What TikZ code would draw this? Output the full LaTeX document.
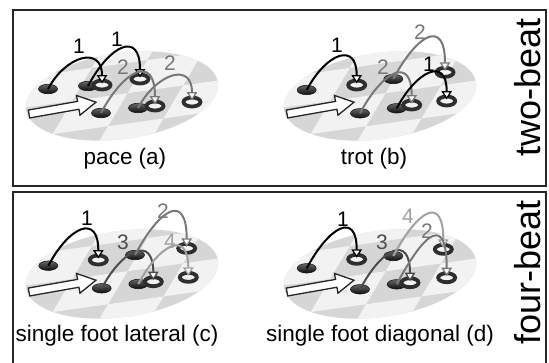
\documentclass[tikz,border=0pt]{standalone}
\usepackage{fontspec}
\setmainfont{Liberation Sans}
\usetikzlibrary{shapes.geometric,arrows.meta}
\definecolor{floorgray}{gray}{0.84}
\definecolor{checkw}{gray}{0.95}
\definecolor{arcgray}{gray}{0.47}
\definecolor{arcdark}{gray}{0.30}
\definecolor{arclight}{gray}{0.63}
\definecolor{ringcol}{gray}{0.18}
\definecolor{framecol}{gray}{0.15}

\newcommand\gaitfloor{%
  \begin{scope}[shift={(122,-96)},rotate=8]
    \fill[floorgray] (0,0) ellipse[x radius=97,y radius=43];
    \begin{scope}
      \clip (0,0) ellipse[x radius=97,y radius=43];
      \foreach \i in {-3,...,2}{\foreach \j in {-2,...,1}{%
        \pgfmathtruncatemacro\chk{mod(\i+\j+10,2)}%
        \ifnum\chk=0
          \fill[checkw] ({\i*56+0.8*\j*30+6},{\j*30+2}) -- ++(56,0) -- ++(24,30) -- ++(-56,0) -- cycle;
        \fi}}
    \end{scope}
  \end{scope}%
  \begin{scope}[shift={(29,-114)},rotate=10]
    \draw[bigarrow] (0,-4) -- (50,-4) -- (50,-10) -- (68,0) -- (50,10) -- (50,4) -- (0,4) -- cycle;
  \end{scope}}

\newcommand\gaitarc[4]{\draw[gaitline=#1] (#2.center) to[out=62,in=90,out distance=#4,in distance=#4] ([yshift=1.5pt]#3.center);}

\begin{document}
\begin{tikzpicture}[x=1pt,y=1pt,
  bigarrow/.style={draw=framecol,line width=1.3pt,fill=white,line join=miter},
  hoof/.style={ellipse,minimum width=19pt,minimum height=9.5pt,inner sep=0,draw=black!90,line width=0.6pt,top color=black!60,bottom color=black!95},
  ring/.style={ellipse,minimum width=17pt,minimum height=9pt,inner sep=0,draw=ringcol,line width=3.8pt,fill=white!90!gray},
  gaitline/.style={draw=#1,line width=2pt,-{Triangle[length=8.5pt,width=10.5pt,line width=1.3pt,fill=white]}},
  lbl/.style={font=\fontsize{21}{25}\selectfont,inner sep=0},
  caption/.style={font=\fontsize{22.5}{27}\selectfont,anchor=base,inner sep=0},
  side/.style={font=\fontsize{36}{43}\selectfont,rotate=90,inner sep=0},
  boxline/.style={draw=framecol,line width=1.3pt}]
\useasboundingbox (0,0) rectangle (549,-362);
\draw[boxline] (13,-10) rectangle (546,-186);
\draw[boxline] (13,-368) -- (13,-192) -- (546,-192) -- (546,-368);

% ---- pace (a)
\begin{scope}
  \gaitfloor
  \node[hoof] (aA1) at (48,-89) {};
  \node[hoof] (aA2) at (88,-86) {};
  \node[hoof] (aA3) at (101,-113) {};
  \node[hoof] (aA4) at (138,-108) {};
  \node[ring] (aR1) at (102,-85) {};
  \node[ring] (aR2) at (140,-79) {};
  \node[ring] (aR3) at (155,-106) {};
  \node[ring] (aR4) at (192,-102) {};
  \gaitarc{black}{aA1}{aR1}{38pt}
  \gaitarc{black}{aA2}{aR2}{47pt}
  \gaitarc{arcgray}{aA3}{aR3}{50pt}
  \gaitarc{arcgray}{aA4}{aR4}{39pt}
  \node[lbl] (al1) at (79,-46) {1};
  \node[lbl] (al2) at (117,-39) {1};
  \node[lbl,text=arcgray] (al3) at (123,-67) {2};
  \node[lbl,text=arcgray] (al4) at (170,-63) {2};
\end{scope}

% ---- trot (b)
\begin{scope}[shift={(258,0)}]
  \gaitfloor
  \node[hoof] (bA1) at (48.7,-90) {};
  \node[hoof] (bA3) at (102,-113.3) {};
  \node[hoof] (bA2) at (135.3,-79) {};
  \node[hoof] (bA4) at (138.7,-108.3) {};
  \node[ring] (bR1) at (98.7,-85) {};
  \node[ring] (bR3) at (153.7,-105) {};
  \node[ring] (bR2) at (187,-72.3) {};
  \node[ring] (bR4) at (188.7,-101) {};
  \gaitarc{black}{bA1}{bR1}{42pt}
  \gaitarc{arcgray}{bA3}{bR3}{48pt}
  \gaitarc{arcgray}{bA2}{bR2}{52pt}
  \gaitarc{black}{bA4}{bR4}{43pt}
  \node[lbl] (bl1) at (79,-45) {1};
  \node[lbl,text=arcgray] (bl2) at (125,-67) {2};
  \node[lbl,text=arcgray] (bl3) at (162,-32) {2};
  \node[lbl] (bl4) at (171,-64) {1};
\end{scope}

% ---- single foot lateral (c)
\begin{scope}[shift={(0,-178)}]
  \gaitfloor
  \node[hoof] (cA1) at (48.3,-87.7) {};
  \node[hoof] (cA3) at (101.7,-110.3) {};
  \node[hoof] (cA2) at (135,-77) {};
  \node[hoof] (cA4) at (138.3,-106) {};
  \node[ring] (cR1) at (98.3,-82) {};
  \node[ring] (cR3) at (153.3,-103.7) {};
  \node[ring] (cR2) at (186.7,-70.3) {};
  \node[ring] (cR4) at (188.3,-99.3) {};
  \gaitarc{black}{cA1}{cR1}{45pt}
  \gaitarc{arcdark}{cA3}{cR3}{45pt}
  \gaitarc{arcgray}{cA2}{cR2}{54pt}
  \gaitarc{arclight}{cA4}{cR4}{46pt}
  \node[lbl] (cl1) at (87,-40) {1};
  \node[lbl,text=arcgray] (cl2) at (163,-33) {2};
  \node[lbl,text=arcdark] (cl3) at (123,-64) {3};
  \node[lbl,text=arclight] (cl4) at (170,-63) {4};
\end{scope}

% ---- single foot diagonal (d)
\begin{scope}[shift={(258,-178)}]
  \gaitfloor
  \node[hoof] (dA1) at (48.7,-90.3) {};
  \node[hoof] (dA3) at (102,-111.3) {};
  \node[hoof] (dA2) at (135.3,-78) {};
  \node[hoof] (dA4) at (138.7,-106.3) {};
  \node[ring] (dR1) at (98.7,-81.3) {};
  \node[ring] (dR3) at (152,-104.7) {};
  \node[ring] (dR2) at (185.3,-71.3) {};
  \node[ring] (dR4) at (188.7,-99.7) {};
  \gaitarc{black}{dA1}{dR1}{47pt}
  \gaitarc{arcdark}{dA3}{dR3}{47pt}
  \gaitarc{arclight}{dA2}{dR2}{53pt}
  \gaitarc{arcgray}{dA4}{dR4}{61pt}
  \node[lbl] (dl1) at (85,-41) {1};
  \node[lbl,text=arcdark] (dl3) at (124,-64) {3};
  \node[lbl,text=arclight] (dl4) at (150,-38) {4};
  \node[lbl,text=arcgray] (dl2) at (169,-53) {2};
\end{scope}

\node[caption] (capa) at (125,-164.5) {pace (a)};
\node[caption] (capb) at (374,-164.5) {trot (b)};
\node[caption] (capc) at (117,-341) {single foot lateral (c)};
\node[caption] (capd) at (380,-341) {single foot diagonal (d)};
\node[side] (twobeat) at (528,-87.5) {two-beat};
\node[side] (fourbeat) at (528,-272.5) {four-beat};
\end{tikzpicture}
\end{document}
